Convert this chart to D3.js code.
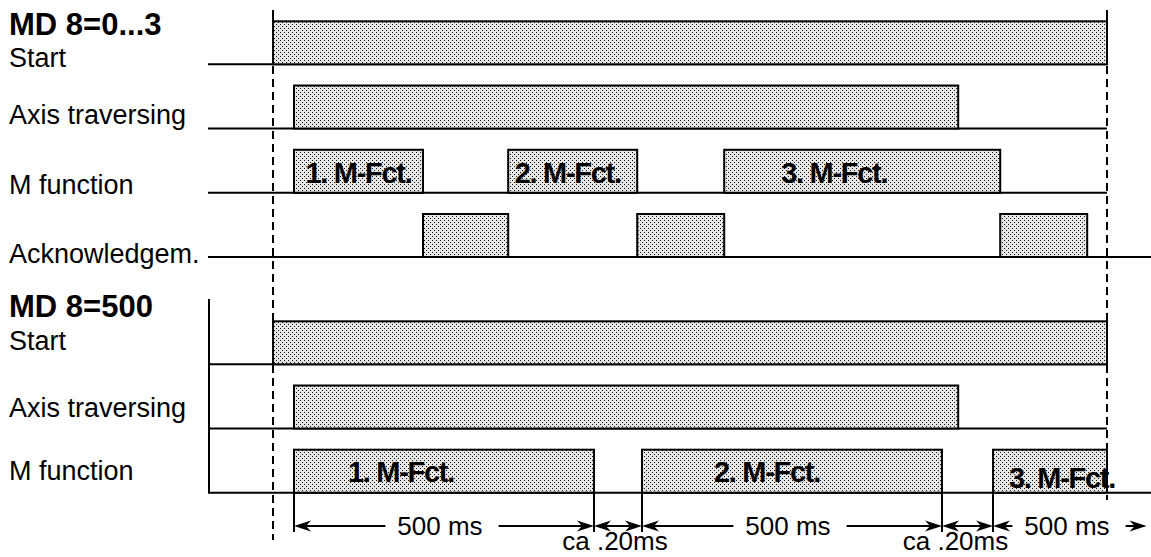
<!DOCTYPE html>
<html><head><meta charset="utf-8">
<script src="https://cdn.jsdelivr.net/npm/d3@7"></script>
<style>
body{margin:0;background:#fff}
svg{display:block}
text{font-family:"Liberation Sans",Arial,Helvetica,sans-serif;fill:#000}
</style>
</head><body><svg id="c" width="1151" height="557"></svg>
<script>
// ---------- data (times in ms) ----------
const topTitle = "MD 8=0...3";
const bottomTitle = "MD 8=500";
const topSignals = ["Start", "Axis traversing", "M function", "Acknowledgem."];
const bottomSignals = ["Start", "Axis traversing", "M function"];
const topStart = [[0, 1390]];
const topAxis = [[35, 1142]];
const topMFct = [[35, 250], [392, 607], [752, 1212]];
const topAck = [[250, 392], [607, 752], [1212, 1357]];
const bottomStart = [[0, 1390]];
const bottomAxis = [[35, 1142]];
const bottomMFct = [[35, 535], [615, 1115], [1200, 1390]];
const mFctLabels = ["1. M-Fct.", "2. M-Fct.", "3. M-Fct."];
const dimBounds = [35, 535, 615, 1115, 1200, 1456];
const dimLabels = ["500 ms", "ca .20ms", "500 ms", "ca .20ms", "500 ms"];
const timeDomain = [0, 1390];

// ---------- layout ----------
const W = 1151, H = 557;
const svg = d3.select("#c");
const x = d3.scaleLinear().domain(timeDomain).range([273, 1107]);
const yTop = d3.scaleLinear().domain([0, 3]).range([64.3, 257]);
const yBot = d3.scaleLinear().domain([0, 2]).range([364.3, 492.7]);
const barH = 43;
const leftX = 208;

const defs = svg.append("defs");
const pat = defs.append("pattern").attr("id", "dots").attr("patternUnits", "userSpaceOnUse")
  .attr("width", 4).attr("height", 4);
pat.append("rect").attr("width", 4).attr("height", 4).attr("fill", "#e6e6e6");
pat.append("rect").attr("x", 0).attr("y", 0).attr("width", 1).attr("height", 1).attr("fill", "#111");
pat.append("rect").attr("x", 2).attr("y", 2).attr("width", 1).attr("height", 1).attr("fill", "#111");

const g = svg.append("g");

function vline(xp, y1, y2, dashed) {
  g.append("line").attr("x1", xp).attr("x2", xp).attr("y1", y1).attr("y2", y2)
    .attr("stroke", "#000").attr("stroke-width", 2)
    .attr("stroke-dasharray", dashed ? "8,5" : null);
}
vline(x(timeDomain[0]), 10, 22, false);
vline(x(timeDomain[1]), 10, 22, false);
vline(x(timeDomain[0]), 66, 540, true);
vline(x(timeDomain[1]), 66, 500, true);
vline(leftX + 1, 299, 493, false);

function baseline(y, x2) {
  g.append("line").attr("x1", leftX).attr("x2", x2).attr("y1", y).attr("y2", y)
    .attr("stroke", "#000").attr("stroke-width", 2);
}
[0, 1, 2].forEach(i => baseline(yTop(i), x(timeDomain[1])));
baseline(yTop(3), W);
[0, 1].forEach(i => baseline(yBot(i), x(timeDomain[1])));
baseline(yBot(2), W);

function bars(data, y) {
  g.append("g").selectAll("rect").data(data).join("rect")
    .attr("x", d => x(d[0])).attr("y", y - barH)
    .attr("width", d => x(d[1]) - x(d[0])).attr("height", barH)
    .attr("fill", "url(#dots)").attr("stroke", "#000").attr("stroke-width", 2);
}
bars(topStart, yTop(0));
bars(topAxis, yTop(1));
bars(topMFct, yTop(2));
bars(topAck, yTop(3));
bars(bottomStart, yBot(0));
bars(bottomAxis, yBot(1));
bars(bottomMFct, yBot(2));

const topDx = [0, -5, -28], botDx = [-43, -25, 12], botDy = [0, 0, 6];
function barLabels(data, y, dx, dy) {
  g.append("g").selectAll("text").data(data).join("text")
    .attr("x", (d, i) => (x(d[0]) + x(d[1])) / 2 + dx[i]).attr("y", (d, i) => y + dy[i])
    .attr("text-anchor", "middle").attr("font-weight", "bold").attr("font-size", 29)
    .attr("letter-spacing", -1.3)
    .text((d, i) => mFctLabels[i]);
}
barLabels(topMFct, yTop(2) - 10, topDx, [0, 0, 0]);
barLabels(bottomMFct, yBot(2) - 11, botDx, botDy);

function label(txt, yy, bold, size) {
  g.append("text").attr("x", 9).attr("y", yy).attr("font-size", size)
    .attr("font-weight", bold ? "bold" : "normal").text(txt);
}
label(topTitle, 35, true, 31);
const topLabelY = [67, 124, 194, 263];
topSignals.forEach((s, i) => label(s, topLabelY[i], false, 27));
label(bottomTitle, 317, true, 31);
const botLabelY = [350, 417, 480];
bottomSignals.forEach((s, i) => label(s, botLabelY[i], false, 27));

const dimY = 526;
dimBounds.slice(0, 5).forEach(t => {
  g.append("line").attr("x1", x(t)).attr("x2", x(t)).attr("y1", yBot(2)).attr("y2", 532)
    .attr("stroke", "#000").attr("stroke-width", 2);
});
function arrowhead(tipX, dir) {
  const L = 17, hw = 5.5, n = 12;
  const p = `M${tipX},${dimY} L${tipX - dir * L},${dimY - hw} L${tipX - dir * n},${dimY} L${tipX - dir * L},${dimY + hw} Z`;
  g.append("path").attr("d", p).attr("fill", "#000");
}
function shaft(x1, x2) {
  g.append("line").attr("x1", x1).attr("x2", x2).attr("y1", dimY).attr("y2", dimY)
    .attr("stroke", "#000").attr("stroke-width", 2);
}
const dimTextDx = [-4, -3, -4, -12, 0];
dimLabels.forEach((lab, i) => {
  const a = x(dimBounds[i]), b = x(dimBounds[i + 1]);
  const small = lab.startsWith("ca");
  arrowhead(a, -1);
  arrowhead(b, 1);
  if (small) {
    shaft(a + 4, b - 4);
    g.append("text").attr("x", (a + b) / 2 + dimTextDx[i]).attr("y", 550)
      .attr("text-anchor", "middle").attr("font-size", 26).text(lab);
  } else {
    const cx = i === 4 ? 1067 : (a + b) / 2 + dimTextDx[i];
    const t = g.append("text").attr("x", cx).attr("y", 535)
      .attr("text-anchor", "middle").attr("font-size", 26).text(lab);
    const w = t.node().getComputedTextLength();
    shaft(a + 4, cx - w / 2 - 12);
    shaft(cx + w / 2 + 16, b - 4);
  }
});
</script>
</body></html>
